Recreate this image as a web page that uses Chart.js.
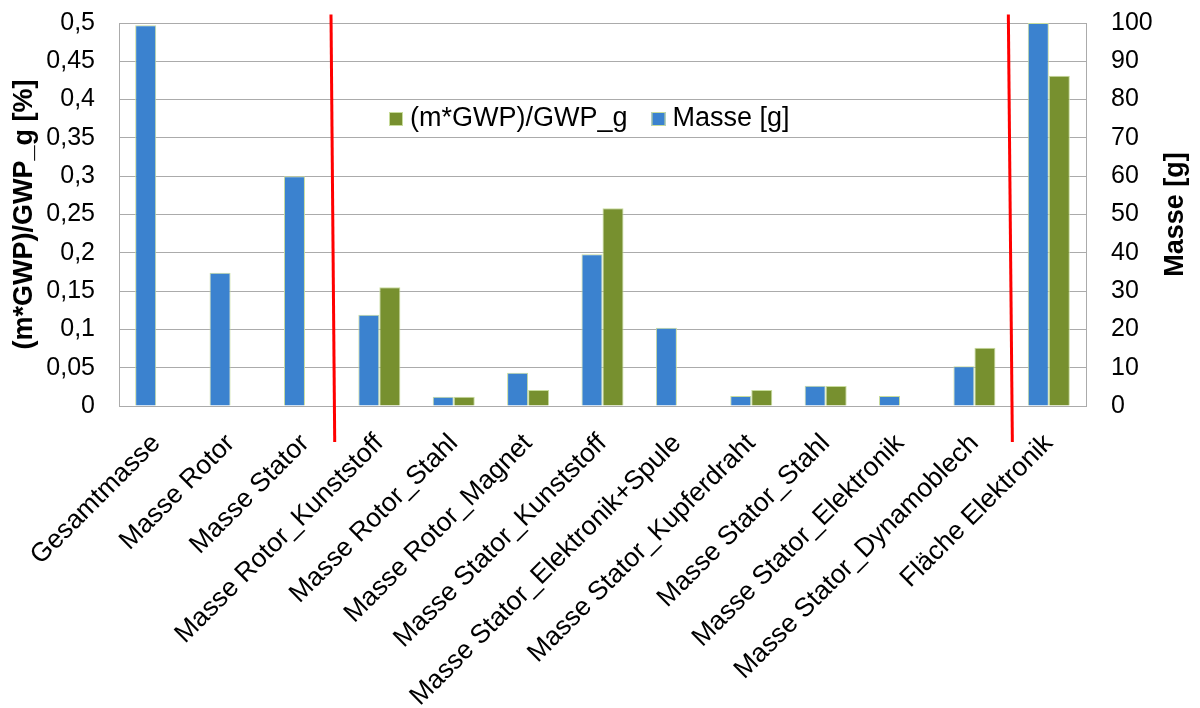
<!DOCTYPE html>
<html><head><meta charset="utf-8">
<script src="https://cdn.jsdelivr.net/npm/chart.js@4.4.1/dist/chart.umd.min.js"></script>
<style>html,body{margin:0;padding:0;background:#fff;}</style>
</head><body>
<canvas id="c" width="1200" height="708"></canvas>
<script>
const categories = ['Gesamtmasse','Masse Rotor','Masse Stator','Masse Rotor_Kunststoff','Masse Rotor_Stahl','Masse Rotor_Magnet','Masse Stator_Kunststoff','Masse Stator_Elektronik+Spule','Masse Stator_Kupferdraht','Masse Stator_Stahl','Masse Stator_Elektronik','Masse Stator_Dynamoblech','Fläche Elektronik'];
const masseG = [99.4, 34.8, 60, 23.8, 2.4, 8.7, 39.6, 20.4, 2.6, 5.3, 2.6, 10.4, 100];
const gwpShare = [null, null, null, 0.155, 0.012, 0.021, 0.258, null, 0.021, 0.026, null, 0.076, 0.431];
const leftTickLabels = ['0','0,05','0,1','0,15','0,2','0,25','0,3','0,35','0,4','0,45','0,5'];
const rightTickLabels = ['0','10','20','30','40','50','60','70','80','90','100'];
const seriesNames = ['Masse [g]', '(m*GWP)/GWP_g'];
const axisTitles = ['(m*GWP)/GWP_g [%]', 'Masse [g]'];

const FONT = '"Liberation Sans", Arial, sans-serif';
Chart.defaults.font.family = FONT;
Chart.defaults.color = '#000';

const innerLegend = {
  id: 'innerLegend',
  afterDraw(chart, args, opts) {
    const ctx = chart.ctx;
    ctx.save();
    ctx.font = '27px ' + FONT;
    ctx.textBaseline = 'middle';
    let x = opts.x; const y = opts.y;
    [1, 0].forEach(i => {
      const ds = chart.data.datasets[i];
      ctx.fillStyle = ds.backgroundColor;
      ctx.fillRect(x, y - 7, 14, 14);
      ctx.strokeStyle = ds.borderColor; ctx.lineWidth = 1;
      ctx.strokeRect(x + 0.5, y - 6.5, 13, 13);
      ctx.fillStyle = '#000';
      ctx.fillText(ds.label, x + 21, y);
      x += 21 + ctx.measureText(ds.label).width + 24;
    });
    ctx.restore();
  }
};

const separators = {
  id: 'separators',
  afterDatasetsDraw(chart, args, opts) {
    const ctx = chart.ctx, xs = chart.scales.x, ys = chart.scales.y;
    ctx.save();
    ctx.strokeStyle = '#ff0000'; ctx.lineWidth = 3;
    opts.lines.forEach(l => {
      ctx.beginPath();
      ctx.moveTo(xs.getPixelForValue(l[0]), ys.getPixelForValue(opts.top));
      ctx.lineTo(xs.getPixelForValue(l[1]), ys.getPixelForValue(opts.bottom));
      ctx.stroke();
    });
    ctx.restore();
  }
};

const rightTitle = {
  id: 'rightTitle',
  afterDraw(chart, args, opts) {
    const ctx = chart.ctx, a = chart.chartArea;
    ctx.save();
    ctx.font = 'bold 27px ' + FONT;
    ctx.textAlign = 'center'; ctx.textBaseline = 'middle';
    ctx.translate(opts.x, (a.top + a.bottom) / 2);
    ctx.rotate(-Math.PI / 2);
    ctx.fillText(opts.text, 0, 0);
    ctx.restore();
  }
};

const gridColor = '#ababab';
new Chart(document.getElementById('c'), {
  type: 'bar',
  data: {
    labels: categories,
    datasets: [
      { label: seriesNames[0], data: masseG, yAxisID: 'y1', backgroundColor: '#3b82cf', borderColor: '#c8dc9c', borderWidth: 1, categoryPercentage: 0.565, barPercentage: 1 },
      { label: seriesNames[1], data: gwpShare, yAxisID: 'y', backgroundColor: '#77902f', borderColor: '#c8dc9c', borderWidth: 1, categoryPercentage: 0.565, barPercentage: 1 }
    ]
  },
  options: {
    responsive: false,
    animation: false,
    devicePixelRatio: 1,
    layout: { padding: { left: 6, top: 23, right: 0, bottom: 0 } },
    plugins: {
      legend: { display: false },
      tooltip: { enabled: false },
      innerLegend: { x: 389, y: 119 },
      separators: { lines: [[2.35, 2.40], [11.456, 11.51]], top: 0.511, bottom: -0.047 },
      rightTitle: { x: 1176, text: axisTitles[1] }
    },
    scales: {
      x: {
        offset: true,
        grid: { display: false, drawTicks: false },
        border: { display: true, color: gridColor },
        ticks: { font: { size: 26.5 }, color: '#000', minRotation: 45, maxRotation: 45, autoSkip: false, padding: 22 },
        afterFit(s) { s.height = 708 - 406; }
      },
      y: {
        position: 'left', min: 0, max: 0.5,
        grid: { color: gridColor, drawTicks: false, lineWidth: 1 },
        border: { display: true, color: gridColor },
        ticks: { stepSize: 0.05, font: { size: 25 }, color: '#000', padding: 24, callback: (v, i) => leftTickLabels[i] },
        title: { display: true, text: axisTitles[0], font: { size: 27, weight: 'bold' }, color: '#000', padding: { top: 2, bottom: 2 } },
        afterFit(s) { s.width = 119 - 6; s.paddingTop = 0; s.paddingBottom = 0; }
      },
      y1: {
        position: 'right', min: 0, max: 100,
        grid: { drawOnChartArea: false, drawTicks: false },
        border: { display: true, color: gridColor },
        ticks: { stepSize: 10, font: { size: 25 }, color: '#000', padding: 25, callback: (v, i) => rightTickLabels[i] },
        afterFit(s) { s.width = 1200 - 1086; s.paddingTop = 0; s.paddingBottom = 0; }
      }
    }
  },
  plugins: [innerLegend, separators, rightTitle]
});
</script>
</body></html>
